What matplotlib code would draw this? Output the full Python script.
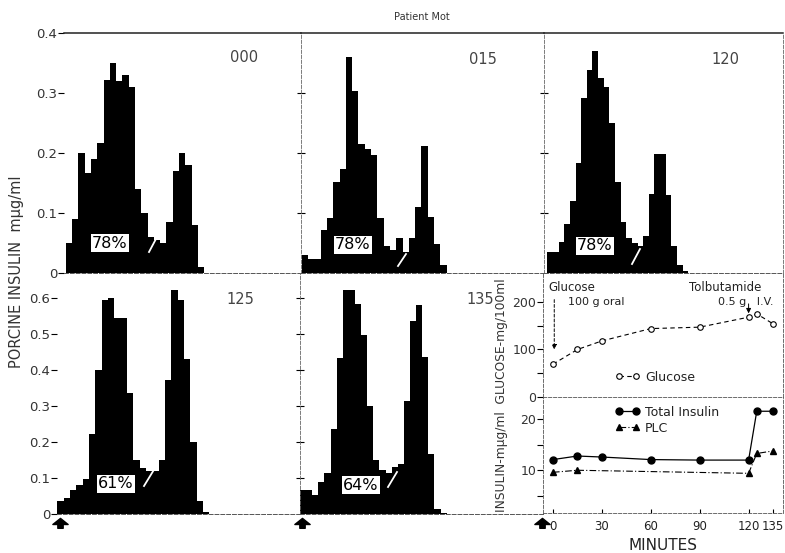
import matplotlib.pyplot as plt
import numpy as np
from matplotlib.lines import Line2D
from matplotlib.path import Path
from matplotlib.ticker import FuncFormatter

W, H = 785, 553

# bin heights of each gel-filtration pattern, porcine insulin m-ug/ml
frac_000 = [0.05, 0.09, 0.20, 0.167, 0.19, 0.217, 0.321, 0.35, 0.32, 0.33, 0.31,
            0.14, 0.10, 0.06, 0.055, 0.05, 0.085, 0.17, 0.20, 0.18, 0.08, 0.01]
frac_015 = [0.03, 0.024, 0.024, 0.072, 0.091, 0.152, 0.173, 0.36, 0.304, 0.215,
            0.207, 0.197, 0.092, 0.045, 0.039, 0.058, 0.035, 0.059, 0.11, 0.211,
            0.094, 0.048, 0.013]
frac_120 = [0.035, 0.035, 0.052, 0.082, 0.12, 0.184, 0.291, 0.338, 0.37, 0.325,
            0.31, 0.25, 0.151, 0.085, 0.058, 0.05, 0.045, 0.061, 0.131, 0.199,
            0.199, 0.13, 0.045, 0.014, 0.003]
frac_125 = [0.035, 0.044, 0.066, 0.081, 0.098, 0.223, 0.40, 0.595, 0.60, 0.543,
            0.543, 0.335, 0.151, 0.128, 0.118, 0.12, 0.151, 0.373, 0.623, 0.595,
            0.431, 0.20, 0.035, 0.005]
frac_135 = [0.066, 0.066, 0.052, 0.089, 0.114, 0.237, 0.433, 0.623, 0.623, 0.583,
            0.498, 0.299, 0.149, 0.123, 0.114, 0.13, 0.14, 0.315, 0.537, 0.581,
            0.435, 0.167, 0.015, 0.003]
sample_names = ["000", "015", "120", "125", "135"]
percents = ["78%", "78%", "78%", "61%", "64%"]

# time course
minutes = [0, 15, 30, 60, 90, 120, 125, 135]
glucose = [69, 100, 118, 144, 147, 168, 175, 154]
total_insulin = [12.1, 12.8, 12.6, 12.1, 12.0, 12.0, 21.6, 21.6]
plc_minutes = [0, 15, 120, 125, 135]
plc = [9.6, 10.0, 9.4, 13.3, 13.8]
minute_ticks = [0, 30, 60, 90, 120, 135]

TXT = "#222222"
DASH = (0, (4, 2))
plt.rcParams['font.family'] = ['DejaVu Sans']
plt.rcParams['text.color'] = TXT


def rect(x0, y0, x1, y1):
    # pixel box -> figure fraction
    return [x0 / W, 1 - y1 / H, (x1 - x0) / W, (y1 - y0) / H]


def fpt(x, y):
    return x / W, 1 - y / H


def fmt(v, pos):
    return "0" if abs(v) < 1e-9 else f"{v:.1f}"


fig = plt.figure(figsize=(W / 100, H / 100), dpi=100)


def hist_panel(box, vals, x0, bw, ymax, yticks, left_style, top_line):
    ax = fig.add_axes(rect(*box))
    edges = np.arange(len(vals) + 1)
    ax.stairs(vals, edges, fill=True, color="black", lw=0)
    ax.set_xlim((box[0] - x0) / bw, (box[2] - x0) / bw)
    ax.set_ylim(0, ymax)
    ax.set_xticks([])
    ax.set_yticks(yticks)
    ax.yaxis.set_major_formatter(FuncFormatter(fmt))
    ax.spines["right"].set_visible(False)
    ax.spines["bottom"].set_linestyle(DASH)
    ax.spines["bottom"].set_linewidth(0.7)
    ax.spines["bottom"].set_color("#555555")
    ax.spines["top"].set_visible(top_line)
    ax.spines["top"].set_linewidth(1.1)
    ax.spines["top"].set_color("#222222")
    if left_style == "none":
        ax.spines["left"].set_visible(False)
        ax.tick_params(axis="y", direction="out", length=4, width=0.8,
                       labelsize=9.5, labelcolor="#333333", pad=1)
    else:
        ax.spines["left"].set_linestyle(DASH)
        ax.spines["left"].set_linewidth(0.6)
        ax.spines["left"].set_color("#666666")
        ax.tick_params(axis="y", direction="inout", length=6, width=0.8,
                       labelleft=False)
    ax.patch.set_alpha(0)
    return ax


top_ticks = [0, 0.1, 0.2, 0.3, 0.4]
bot_ticks = [0, 0.1, 0.2, 0.3, 0.4, 0.5, 0.6]

hist_panel((64, 33, 301, 273), frac_000, 65.7, 6.3, 0.4, top_ticks, "none", True)
hist_panel((301, 33, 544, 273), frac_015, 301.7, 6.3, 0.4, top_ticks[1:4], "dash", True)
a3 = hist_panel((544, 33, 783, 273), frac_120, 547.3, 5.64, 0.4, top_ticks[1:4], "dash", True)
a3.spines["right"].set_visible(True)
a3.spines["right"].set_linestyle(DASH)
a3.spines["right"].set_linewidth(0.6)
a3.spines["right"].set_color("#666666")
hist_panel((57, 273, 300, 514), frac_125, 57.3, 6.33, 0.669, bot_ticks, "none", False)
hist_panel((300, 273, 543, 514), frac_135, 300.0, 6.11, 0.669, bot_ticks[1:], "dash", False)

# sample labels
for name, (x, y) in zip(sample_names, [(244, 57), (483, 59), (725, 60), (240, 299), (480, 300)]):
    fig.text(*fpt(x, y), name, ha="center", va="center", fontsize=10.5, color="#444444")

# percent boxes
for p, (x, y) in zip(percents, [(110, 243), (353, 245), (595, 246), (116, 484), (361, 485)]):
    fig.text(*fpt(x, y), p, ha="center", va="center", fontsize=11.5, color="black",
             bbox=dict(facecolor="white", edgecolor="none", pad=1.2))

# white slashes in the troughs
for (xa, ya, xb, yb) in [(149, 252, 157, 237), (398, 266, 406, 254), (632, 264, 640, 249),
                         (144, 486, 155, 468), (388, 487, 397, 472)]:
    fig.add_artist(Line2D([xa / W, xb / W], [1 - ya / H, 1 - yb / H], color="white",
                          lw=1.3, transform=fig.transFigure))

fig.text(*fpt(422, 17), "Patient Mot", ha="center", va="center", fontsize=7, color="#333333")
fig.text(*fpt(17, 272), "PORCINE INSULIN  m\u03bcg/ml", rotation=90, ha="center",
         va="center", fontsize=10.5, color="#333333")

# ---- glucose / insulin time course ----
xl = (-6.1, 141.1)
ax_g = fig.add_axes(rect(543, 273, 783, 397))
ax_i = fig.add_axes(rect(543, 397, 783, 513))

ax_g.plot(minutes, glucose, color="black", ls=(0, (4, 3)), lw=0.8, marker="o", ms=4,
          mfc="white", mec="black", mew=0.8, label="Glucose")
ax_g.set_xlim(*xl)
ax_g.set_ylim(0, 261)
ax_g.set_xticks([])
ax_g.set_yticks([0, 100, 200])
ax_g.set_yticks([50, 150], minor=True)
ax_g.tick_params(axis="y", which="both", direction="out", length=4, width=0.8,
                 labelsize=9, labelcolor="#333333", pad=1)
ax_g.spines["top"].set_visible(False)
for s in ["left", "right", "bottom"]:
    ax_g.spines[s].set_linestyle(DASH)
    ax_g.spines[s].set_linewidth(0.6)
    ax_g.spines[s].set_color("#555555")
ax_g.legend(loc="center left", bbox_to_anchor=(0.30, 0.161), frameon=False, fontsize=9,
            numpoints=2, handlelength=2.0, handletextpad=0.4, borderpad=0,
            borderaxespad=0)

ax_g.annotate("", xy=(0.8, 100), xytext=(0.8, 205),
              arrowprops=dict(arrowstyle="-|>", ls=(0, (3, 2)), lw=0.7, color="black",
                              mutation_scale=7, shrinkA=0, shrinkB=0))
ax_g.annotate("", xy=(120, 176), xytext=(120, 196),
              arrowprops=dict(arrowstyle="-|>", lw=0.7, color="black",
                              mutation_scale=7, shrinkA=0, shrinkB=0))
ax_g.text(-3, 231, "Glucose", ha="left", va="center", fontsize=8.5)
ax_g.text(9, 200, "100 g oral", ha="left", va="center", fontsize=8)
ax_g.text(128, 231, "Tolbutamide", ha="right", va="center", fontsize=8.5)
ax_g.text(135, 200, "0.5 g   I.V.", ha="right", va="center", fontsize=8)
ax_g.patch.set_alpha(0)

ax_i.plot(minutes, total_insulin, color="black", ls="-", lw=0.9, marker="o", ms=5,
          label="Total Insulin")
ax_i.plot(plc_minutes, plc, color="black", ls=(0, (6, 2, 1, 2)), lw=0.8, marker="^", ms=4.5,
          label="PLC")
ax_i.set_xlim(*xl)
ax_i.set_ylim(1.6, 24.4)
ax_i.set_yticks([10, 20])
ax_i.set_yticks([5, 15], minor=True)
ax_i.set_xticks(minute_ticks)
ax_i.tick_params(axis="y", which="both", direction="out", length=4, width=0.8,
                 labelsize=9, labelcolor="#333333", pad=1)
ax_i.tick_params(axis="x", direction="in", length=3, width=0.8, labelsize=8.5,
                 labelcolor="#222222", pad=5)
ax_i.set_xlabel("MINUTES", fontsize=11, labelpad=4, color="#222222")
ax_i.spines["top"].set_visible(False)
for s in ["left", "right", "bottom"]:
    ax_i.spines[s].set_linestyle(DASH)
    ax_i.spines[s].set_linewidth(0.6)
    ax_i.spines[s].set_color("#555555")
ax_i.legend(loc="center left", bbox_to_anchor=(0.30, 0.80), frameon=False, fontsize=9,
            numpoints=2, handlelength=2.0, handletextpad=0.4, labelspacing=0.25,
            borderpad=0, borderaxespad=0)
ax_i.patch.set_alpha(0)

fig.text(*fpt(502, 395), "INSULIN-m\u03bcg/ml  GLUCOSE-mg/100ml", rotation=90,
         ha="center", va="center", fontsize=8.8, color="#333333")

# sample-application arrows under the lower panels
arrow = Path([(-1, 0), (0, 0.8), (1, 0), (0.35, 0), (0.35, -0.5), (-0.35, -0.5),
              (-0.35, 0), (-1, 0)],
             [Path.MOVETO] + [Path.LINETO] * 6 + [Path.CLOSEPOLY])
for x in [60, 302, 542]:
    fig.add_artist(Line2D([x / W], [1 - 524 / H], marker=arrow, ms=11, color="black",
                          mec="black", ls="none", transform=fig.transFigure))

fig.savefig("out.png", dpi=100)
